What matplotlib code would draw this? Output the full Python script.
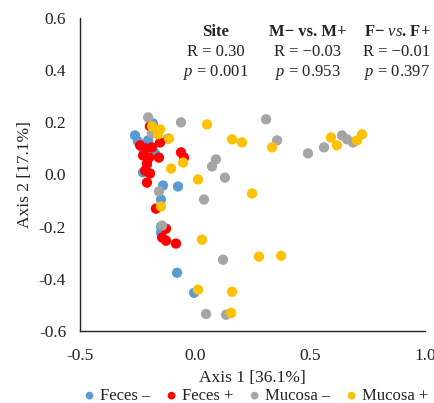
import matplotlib
matplotlib.use("Agg")
import matplotlib.pyplot as plt
from matplotlib.ticker import FuncFormatter, FixedLocator

plt.rcParams['font.family'] = ['Liberation Serif', 'DejaVu Serif']
plt.rcParams['mathtext.fontset'] = 'custom'
plt.rcParams['mathtext.it'] = 'Liberation Serif:italic'
plt.rcParams['mathtext.rm'] = 'Liberation Serif'
plt.rcParams['mathtext.bf'] = 'Liberation Serif:bold'

series_names = ["Feces –", "Feces +", "Mucosa –", "Mucosa +"]
series_colors = ["#5B9BD5", "#FF0000", "#A5A5A5", "#FFC000"]

feces_neg_x = [-0.261, -0.248, -0.230, -0.204, -0.183, -0.174, -0.226, -0.209, -0.139, -0.074,
               -0.148, -0.148, -0.148, -0.078, -0.004, -0.117]
feces_neg_y = [0.150, 0.127, 0.104, 0.131, 0.196, 0.081, 0.008, 0.035, -0.042, -0.046,
               -0.096, -0.200, -0.223, -0.377, -0.454, 0.138]

feces_pos_x = [-0.196, -0.239, -0.213, -0.187, -0.152, -0.226, -0.200, -0.157, -0.209, -0.217,
               -0.196, -0.209, -0.061, -0.048, -0.170, -0.126, -0.143, -0.126, -0.083]
feces_pos_y = [0.185, 0.112, 0.100, 0.104, 0.123, 0.073, 0.065, 0.065, 0.042, 0.015,
               0.004, -0.031, 0.085, 0.065, -0.131, -0.208, -0.242, -0.254, -0.265]

mucosa_neg_x = [-0.204, -0.187, -0.061, -0.157, -0.143, 0.039, 0.074, 0.091, 0.130, 0.309,
                0.357, 0.491, 0.561, 0.639, 0.661, 0.687, 0.122, 0.048, 0.135]
mucosa_neg_y = [0.219, 0.158, 0.200, -0.065, -0.196, -0.096, 0.031, 0.058, -0.012, 0.212,
                0.131, 0.081, 0.104, 0.150, 0.135, 0.123, -0.327, -0.535, -0.538]

mucosa_pos_x = [-0.187, -0.152, -0.161, -0.113, 0.052, -0.052, -0.104, 0.013, -0.148, 0.030,
                0.013, 0.161, 0.157, 0.161, 0.204, 0.335, 0.248, 0.591, 0.617, 0.704,
                0.726, 0.278, 0.374]
mucosa_pos_y = [0.185, 0.173, 0.154, 0.138, 0.192, 0.046, 0.023, -0.019, -0.123, -0.250,
                -0.442, -0.450, -0.531, 0.135, 0.123, 0.104, -0.073, 0.142, 0.112, 0.131,
                0.154, -0.315, -0.312]

x_ticks = [-0.5, 0.0, 0.5, 1.0]
y_ticks = [-0.6, -0.4, -0.2, 0.0, 0.2, 0.4, 0.6]

stat_titles = ["Site", "M− vs. M+", "F− vs. F+"]
stat_R = ["R = 0.30", "R = −0.03", "R = −0.01"]
stat_p = ["0.001", "0.953", "0.397"]

fig = plt.figure(figsize=(4.35, 4.03), dpi=100)
ax = fig.add_axes([0.184, 0.179, 0.793, 0.776])

xs = [feces_neg_x, feces_pos_x, mucosa_neg_x, mucosa_pos_x]
ys = [feces_neg_y, feces_pos_y, mucosa_neg_y, mucosa_pos_y]
for x, y, c, n in zip(xs, ys, series_colors, series_names):
    ax.scatter(x, y, s=55, color=c, edgecolors='none', label=n, zorder=3)

ax.set_xlim(-0.5, 1.0)
ax.set_ylim(-0.6, 0.6)
ax.xaxis.set_major_locator(FixedLocator(x_ticks))
ax.yaxis.set_major_locator(FixedLocator(y_ticks))
fmt = FuncFormatter(lambda v, p: f"{v:.1f}".replace("-0.0", "0.0"))
ax.xaxis.set_major_formatter(fmt)
ax.yaxis.set_major_formatter(fmt)
ax.tick_params(length=0, labelsize=12.5, colors='#222222')
ax.tick_params(axis='x', pad=12)
ax.tick_params(axis='y', pad=10)
for s in ['top', 'right']:
    ax.spines[s].set_visible(False)
for s in ['left', 'bottom']:
    ax.spines[s].set_color('#222222')
    ax.spines[s].set_linewidth(1.0)

ax.set_xlabel("Axis 1 [36.1%]", fontsize=12.5, labelpad=5, color='#222222')
ax.set_ylabel("Axis 2 [17.1%]", fontsize=12.5, labelpad=4, color='#222222')

# Stats annotations (figure pixel positions converted to fractions)
cols_px = [216, 308, 397]
W, H = 435, 403
for i, cx in enumerate(cols_px):
    if i == 2:
        fig.text(cx / W, 1 - 32 / H, r"F− $\mathit{vs}$. F+", ha='center', va='center',
                 fontsize=12, fontweight='bold', color='#222222')
    else:
        fig.text(cx / W, 1 - 32 / H, stat_titles[i], ha='center', va='center',
                 fontsize=12, fontweight='bold', color='#222222')
    fig.text(cx / W, 1 - 52 / H, stat_R[i], ha='center', va='center', fontsize=12, color='#222222')
    fig.text(cx / W, 1 - 72 / H, r"$p$ = " + stat_p[i], ha='center', va='center', fontsize=12, color='#222222')

leg = fig.legend(loc='center', bbox_to_anchor=(0.585, 1 - 396 / H), ncol=4, frameon=False,
                 fontsize=12, handletextpad=0.1, columnspacing=0.8, markerscale=0.75,
                 handlelength=1.0, borderaxespad=0)
for t in leg.get_texts():
    t.set_color('#222222')

fig.savefig("out.png", dpi=100)
